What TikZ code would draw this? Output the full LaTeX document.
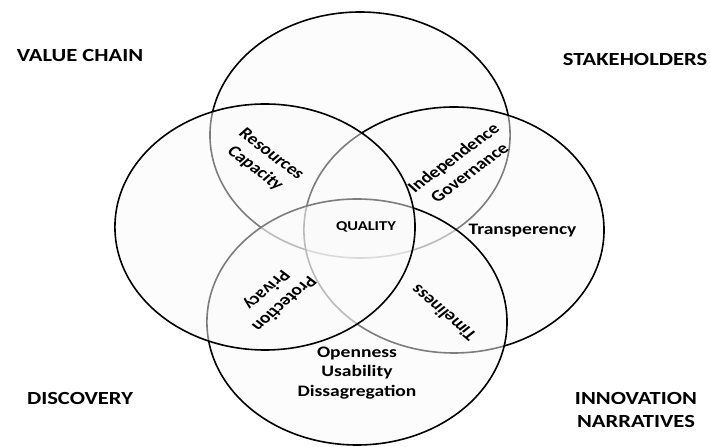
\documentclass[tikz,border=0pt]{standalone}
\usepackage{fontspec}
\setmainfont{Carlito}
\begin{document}
\begin{tikzpicture}[x=1pt,y=1pt]
\useasboundingbox (0,0) rectangle (710,447);
% the whole figure is drawn in a horizontally stretched frame
\begin{scope}[xscale=1.22, transform shape,
  ring/.style={circle, draw=black, line width=1.6pt, fill=black!2,
    fill opacity=0.5, draw opacity=1, minimum size=246pt, inner sep=0pt},
  corner/.style={font=\fontsize{18.5}{23.5}\selectfont\bfseries,
    align=center, inner sep=0pt},
  inlabel/.style={font=\fontsize{16}{19.5}\selectfont\bfseries,
    align=center, inner sep=0pt}]
  % four overlapping rings, later ones lie above earlier ones
  \node[ring] (top)    at (295.1,312) {};
  \node[ring] (right)  at (372.1,217) {};
  \node[ring] (bottom) at (292.6,125) {};
  \node[ring] (left)   at (217.2,220) {};

  % corner headings
  \node[corner] (vchain) at (65.6,391) {VALUE CHAIN};
  \node[corner] (stake)  at (520.5,387) {STAKEHOLDERS};
  \node[corner] (disc)   at (65.6,49) {DISCOVERY};
  \node[corner] (innov)  at (521.3,37) {INNOVATION\\NARRATIVES};

  % labels inside the overlaps
  \node[inlabel, rotate=-43] (rescap) at (215.5,285.3) {Resources\\Capacity};
  \node[inlabel, rotate=42]  (indgov) at (378,282) {Independence\\Governance};
  \node[font=\fontsize{13.5}{15}\selectfont\bfseries, inner sep=0pt] (quality) at (300,220) {QUALITY};
  \node[inlabel] (transp) at (428.3,216) {Transperency};
  \node[inlabel, rotate=227] (protpriv) at (225.4,150.3) {Protection\\Privacy};
  \node[inlabel, rotate=134] (timely) at (363.4,133.7) {Timeliness};
  \node[inlabel] (open) at (292.6,74) {Openness\\Usability\\Dissagregation};
\end{scope}
\end{tikzpicture}
\end{document}
